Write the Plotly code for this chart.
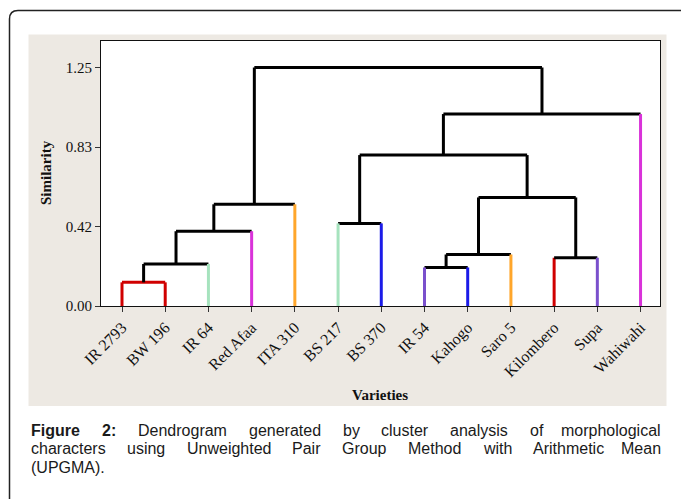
import plotly.graph_objects as go

# ---------------- data ----------------
leaves = ["IR 2793", "BW 196", "IR 64", "Red Afaa", "ITA 310", "BS 217", "BS 370",
          "IR 54", "Kahogo", "Saro 5", "Kilombero", "Supa", "Wahiwahi"]
leaf_colors = ["#D00000", "#D00000", "#A6E3BE", "#D932D9", "#FFA62B", "#A6E3BE", "#1B1BE8",
               "#7A50CC", "#1B1BE8", "#FFA62B", "#D00000", "#7A50CC", "#D932D9"]
# merges: (left id, right id, similarity); ids 0..12 are leaves, 13.. are clusters
merge_left = [0, 13, 14, 15, 5, 7, 18, 10, 19, 17, 22, 16]
merge_right = [1, 2, 3, 4, 6, 8, 9, 11, 20, 21, 12, 23]
merge_height = [0.124, 0.220, 0.392, 0.533, 0.433, 0.202, 0.270, 0.253, 0.569, 0.791, 1.006, 1.25]
merge_color = ["#D00000"] + ["#000000"] * 11

y_tickvals = [0.0, 1.25 / 3, 2.5 / 3, 1.25]
y_ticktext = ["0.00", "0.42", "0.83", "1.25"]

caption_lines = [
    [("Figure", True), ("2:", True), ("Dendrogram", False), ("generated", False), ("by", False),
     ("cluster", False), ("analysis", False), ("of", False), ("morphological", False)],
    [("characters", False), ("using", False), ("Unweighted", False), ("Pair", False), ("Group", False),
     ("Method", False), ("with", False), ("Arithmetic", False), ("Mean", False)],
    [("(UPGMA).", False)],
]

# ---------------- geometry helpers ----------------
W, H = 681, 499
ML, MR, MT, MB = 101, 21, 41, 193
PW, PH = W - ML - MR, H - MT - MB


def px(x):
    return (x - ML) / PW


def py(y):
    return (H - MB - y) / PH


# ---------------- build dendrogram segments ----------------
pos = {i: float(i + 1) for i in range(len(leaves))}
hgt = {i: 0.0 for i in range(len(leaves))}
segs = {}  # color -> (xs, ys)


def add(color, xs, ys):
    s = segs.setdefault(color, ([], []))
    s[0].extend(xs + [None])
    s[1].extend(ys + [None])


for k, (a, b, h, c) in enumerate(zip(merge_left, merge_right, merge_height, merge_color)):
    cid = len(leaves) + k
    for child in (a, b):
        col = leaf_colors[child] if child < len(leaves) else c
        if child < len(leaves) and c != "#000000":
            col = c
        add(col, [pos[child], pos[child]], [hgt[child], h])
    add(c, [pos[a], pos[b]], [h, h])
    pos[cid] = (pos[a] + pos[b]) / 2
    hgt[cid] = h

fig = go.Figure()
for col, (xs, ys) in segs.items():
    fig.add_trace(go.Scatter(x=xs, y=ys, mode="lines", line=dict(color=col, width=3),
                             hoverinfo="skip", showlegend=False))

# ---------------- background shapes ----------------
shapes = [
    dict(type="rect", xref="paper", yref="paper", x0=px(28.5), x1=px(666.5), y0=py(406), y1=py(34.5),
         fillcolor="#EDE9E3", line=dict(width=0), layer="below"),
    dict(type="rect", xref="paper", yref="paper", x0=0, x1=1, y0=0, y1=1,
         fillcolor="#FFFFFF", line=dict(width=0), layer="below"),
    dict(type="path", xref="paper", yref="paper",
         path=f"M {px(9.5)},{py(505)} L {px(9.5)},{py(19)} Q {px(9.5)},{py(10.5)} {px(18)},{py(10.5)} L {px(690)},{py(10.5)}",
         line=dict(color="#222222", width=1.5)),
]

# ---------------- annotations ----------------
ann = [
    dict(text="<b>Similarity</b>", x=px(46), y=py(173), xref="paper", yref="paper", showarrow=False,
         xanchor="center", yanchor="middle",
         textangle=-90, font=dict(family="Liberation Serif", size=15, color="#111111")),
    dict(text="<b>Varieties</b>", x=px(380), y=py(395), xref="paper", yref="paper", showarrow=False,
         xanchor="center", yanchor="middle",
         font=dict(family="Liberation Serif", size=15, color="#111111")),
]

AW = {c: w for c, w in zip("abcdefghijklmnopqrstuvwxyz",
                           [556, 556, 500, 556, 556, 278, 556, 556, 222, 222, 500, 222, 833, 556, 556, 556,
                            556, 333, 500, 278, 556, 500, 722, 500, 500, 500])}
AW.update({c: w for c, w in zip("ABCDEFGHIJKLMNOPQRSTUVWXYZ",
                                [667, 667, 722, 722, 667, 611, 778, 722, 278, 500, 667, 556, 833, 722, 778,
                                 667, 778, 722, 667, 611, 722, 667, 944, 667, 667, 611])})
AW.update({d: 556 for d in "0123456789"})
AW.update({" ": 278, ":": 278, ".": 278, "(": 333, ")": 333})
BW = dict(AW)
BW.update({"i": 278, "g": 611, "u": 611, "r": 389, ":": 333})

CAP_SIZE = 16
cap_left, cap_right = 29, 663
cap_y = [430, 448.5, 467]


def wwidth(word, bold):
    t = BW if bold else AW
    return sum(t.get(ch, 556) for ch in word) * CAP_SIZE / 1000


for li, line in enumerate(caption_lines):
    widths = [wwidth(w, b) for w, b in line]
    if len(line) > 1 and li < len(caption_lines) - 1:
        gap = (cap_right - cap_left - sum(widths)) / (len(line) - 1)
    else:
        gap = CAP_SIZE * 0.278
    x = cap_left
    for wi, ((w, b), ww) in enumerate(zip(line, widths)):
        last = (wi == len(line) - 1 and li < len(caption_lines) - 1 and len(line) > 1)
        ann.append(dict(text=f"<b>{w}</b>" if b else w, xref="paper", yref="paper",
                        x=px(cap_right) if last else px(x), y=py(cap_y[li]),
                        xanchor="right" if last else "left", yanchor="middle", showarrow=False,
                        font=dict(family="Liberation Sans, Arial", size=CAP_SIZE, color="#1a1a1a")))
        x += ww + gap

fig.update_layout(
    width=W, height=H,
    margin=dict(l=ML, r=MR, t=MT, b=MB, autoexpand=False),
    paper_bgcolor="#FFFFFF", plot_bgcolor="#FFFFFF",
    shapes=shapes, annotations=ann, showlegend=False,
    xaxis=dict(range=[0.514, 13.45], tickmode="array", tickvals=list(range(1, len(leaves) + 1)),
               ticktext=leaves, tickangle=-45, ticks="outside", ticklen=5, tickcolor="#333333",
               showline=True, mirror=True, linecolor="#111111", linewidth=1.2, showgrid=False,
               zeroline=False, fixedrange=True,
               tickfont=dict(family="Liberation Serif", size=16, color="#111111")),
    yaxis=dict(range=[0, 1.3889], tickmode="array", tickvals=y_tickvals, ticktext=y_ticktext,
               ticks="outside", ticklen=5, tickcolor="#333333",
               showline=True, mirror=True, linecolor="#111111", linewidth=1.2, showgrid=False,
               zeroline=False, fixedrange=True,
               tickfont=dict(family="Liberation Serif", size=15, color="#111111")),
)

fig.write_html("out.html", config={"displayModeBar": False},
               post_script="document.body.style.margin='0';document.body.style.overflow='hidden';")
